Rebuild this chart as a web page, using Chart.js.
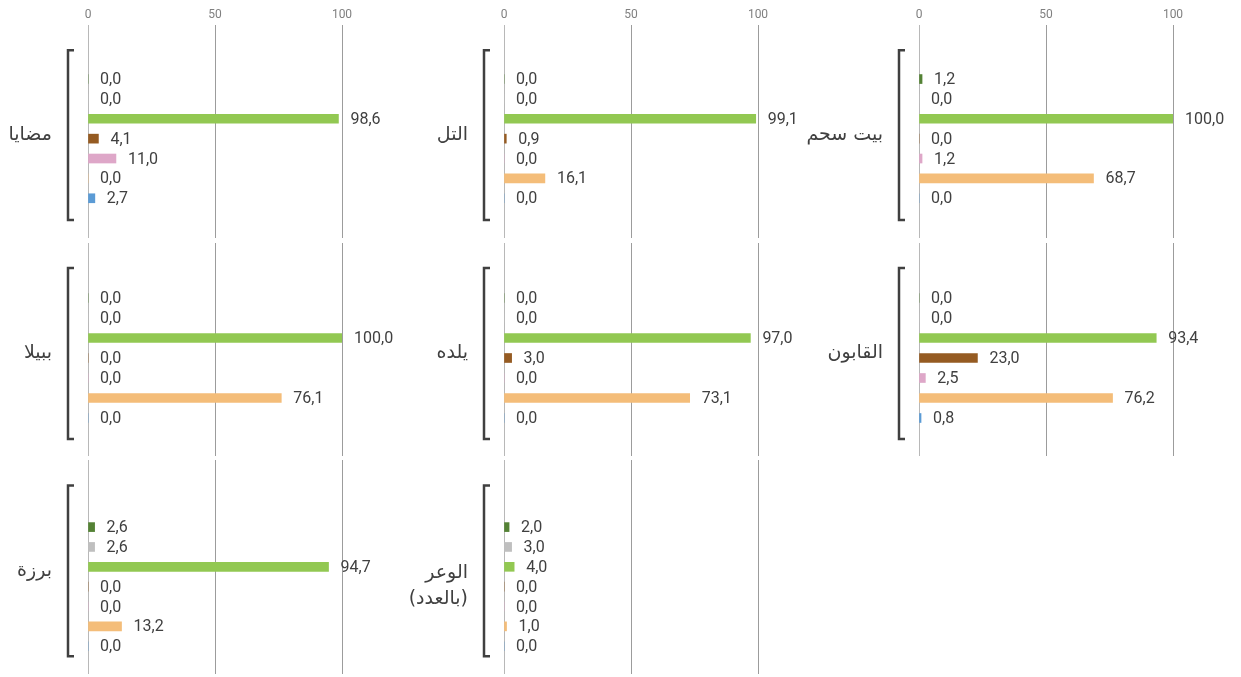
<!DOCTYPE html>
<html lang="ar">
<head>
<meta charset="utf-8">
<script src="https://cdn.jsdelivr.net/npm/chart.js@4.4.1/dist/chart.umd.min.js"></script>
<style>
  html, body { margin: 0; padding: 0; background: #fff; }
  body { width: 1241px; height: 677px; position: relative; overflow: hidden; }
  canvas { position: absolute; }
</style>
</head>
<body>
<script>
// Town names, one per small panel
const towns = ['مضايا', 'التل', 'بيت سحم', 'ببيلا', 'يلده', 'القابون', 'برزة', ['الوعر', '(بالعدد)']];

// Seven indicators per town (percent, except الوعر which is a count)
const madaya = [0, 0, 98.6, 4.1, 11.0, 0, 2.7];
const tall = [0, 0, 99.1, 0.9, 0, 16.1, 0];
const beitSahem = [1.2, 0, 100.0, 0, 1.2, 68.7, 0];
const babbila = [0, 0, 100.0, 0, 0, 76.1, 0];
const yalda = [0, 0, 97.0, 3.0, 0, 73.1, 0];
const qaboun = [0, 0, 93.4, 23.0, 2.5, 76.2, 0.8];
const barzeh = [2.6, 2.6, 94.7, 0, 0, 13.2, 0];
const waer = [2.0, 3.0, 4.0, 0, 0, 1.0, 0];

const xTicks = [0, 50, 100];

const barColors = ['#548235', '#bfbfbf', '#92c852', '#955b22', '#dea7c8', '#f4bd79', '#5b9bd5'];

const townValues = [madaya, tall, beitSahem, babbila, yalda, qaboun, barzeh, waer];

// Panel grid: zero line x per column, bands per row
const zeroX = [88, 504, 919];
const padLeft = 130, plotWidth = 254, padRight = 66;
const rowBands = [
  { top: 0, height: 240, padTop: 0, padBottom: 2, axis: true, yMin: -2.72, yMax: 8.0, bracket: [-1.45, 7.1] },
  { top: 240, height: 218, padTop: 3, padBottom: 2, axis: false, yMin: -2.75, yMax: 7.9, bracket: [-1.5, 7.05] },
  { top: 458, height: 219, padTop: 2, padBottom: 3, axis: false, yMin: -3.38, yMax: 7.4, bracket: [-2.1, 6.5] }
];

const fmt = v => v.toFixed(1).replace('.', ',');

// Value labels, bracket and town name around each panel
const panelDecor = {
  id: 'panelDecor',
  afterDatasetsDraw(chart, args, opts) {
    const ctx = chart.ctx;
    const xs = chart.scales.x, ys = chart.scales.y;
    const ds = chart.data.datasets[0];
    ctx.save();
    ctx.font = '16px Roboto';
    ctx.fillStyle = '#404040';
    ctx.textBaseline = 'middle';
    ctx.textAlign = 'left';
    chart.getDatasetMeta(0).data.forEach((bar, i) => {
      ctx.fillText(fmt(ds.data[i].x), bar.x + 12, bar.y + 1);
    });

    const bx = xs.getPixelForValue(0) - 20;
    const top = ys.getPixelForValue(opts.bracket[0]);
    const bottom = ys.getPixelForValue(opts.bracket[1]);
    ctx.strokeStyle = '#404040';
    ctx.lineWidth = 2.5;
    ctx.beginPath();
    ctx.moveTo(bx + 6, top);
    ctx.lineTo(bx, top);
    ctx.lineTo(bx, bottom);
    ctx.lineTo(bx + 6, bottom);
    ctx.stroke();

    // town name; a two-line name hangs just below the bracket middle
    const lines = [].concat(opts.name);
    const mid = (top + bottom) / 2;
    ctx.font = '19px "DejaVu Sans"';
    ctx.textAlign = 'right';
    ctx.fillStyle = '#404040';
    lines.forEach((t, k) => {
      const y = lines.length > 1 ? mid + 2 + k * 26 : mid;
      ctx.fillText(t, bx - 16, y);
    });
    ctx.restore();
  }
};

towns.forEach((name, p) => {
  const col = p % 3, row = Math.floor(p / 3);
  const band = rowBands[row];
  const canvas = document.createElement('canvas');
  canvas.width = padLeft + plotWidth + padRight;
  canvas.height = band.height;
  canvas.style.left = (zeroX[col] - padLeft) + 'px';
  canvas.style.top = band.top + 'px';
  document.body.appendChild(canvas);

  const values = townValues[p];
  new Chart(canvas, {
    type: 'bar',
    data: {
      datasets: [{
        data: values.map((v, i) => ({ x: v, y: i })),
        backgroundColor: barColors,
        barThickness: 9
      }]
    },
    options: {
      indexAxis: 'y',
      responsive: false,
      animation: false,
      layout: { padding: { left: padLeft, right: padRight, top: band.padTop, bottom: band.padBottom } },
      scales: {
        x: {
          type: 'linear',
          position: 'top',
          min: 0,
          max: 100,
          afterBuildTicks: s => { s.ticks = xTicks.map(v => ({ value: v })); },
          afterFit: s => { s.height = band.axis ? 25 : 0; },
          border: { display: false },
          grid: {
            drawTicks: false,
            color: c => c.tick && c.tick.value === 0 ? '#b8b8b8' : '#9c9c9c',
            lineWidth: 1
          },
          ticks: {
            display: band.axis,
            padding: 3,
            color: '#808080',
            font: { family: 'Roboto', size: 12 }
          }
        },
        y: {
          type: 'linear',
          display: false,
          offset: false,
          reverse: true,
          min: band.yMin,
          max: band.yMax
        }
      },
      plugins: {
        legend: { display: false },
        tooltip: { enabled: false },
        panelDecor: { name: name, bracket: band.bracket }
      }
    },
    plugins: [panelDecor]
  });
});
</script>
</body>
</html>
